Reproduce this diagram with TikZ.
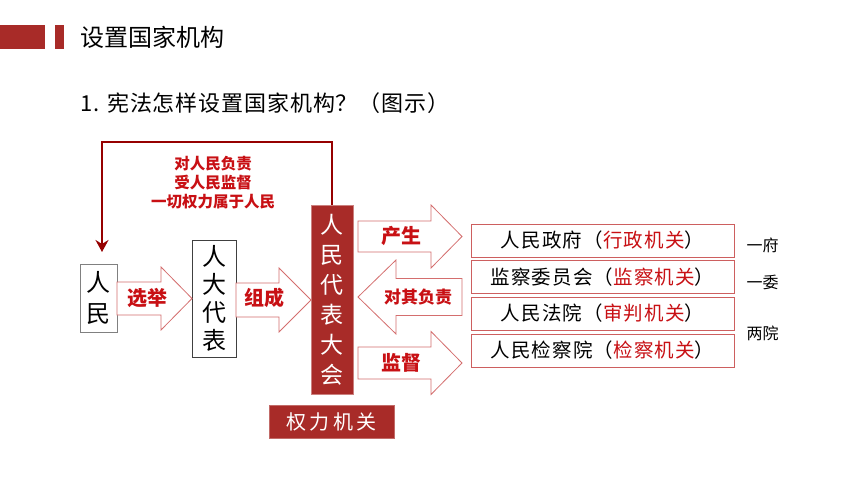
\documentclass[tikz,border=0pt]{standalone}
\usepackage{fontspec}
\setmainfont{Noto Sans CJK SC}
\usetikzlibrary{arrows.meta}
\definecolor{boxred}{RGB}{168,43,40}
\definecolor{txtred}{RGB}{200,16,20}
\definecolor{linered}{RGB}{150,0,0}
\definecolor{arrowedge}{RGB}{212,110,110}
\definecolor{rboxedge}{RGB}{205,95,95}
\newcommand{\myblockarrow}[6]{%
  \draw[blockarrow] ({#1},{#4-#5}) -- ({#2},{#4-#5}) -- ({#2},{#4-#6}) -- ({#3},{#4})
    -- ({#2},{#4+#6}) -- ({#2},{#4+#5}) -- ({#1},{#4+#5}) -- cycle;}
\tikzset{
  blockarrow/.style={draw=arrowedge, fill=white, line width=0.8pt, line join=miter},
  vbox/.style={draw, inner sep=0pt, align=center},
  redlbl/.style={text=txtred, font=\bfseries\fontsize{20}{20}\selectfont},
  rbox/.style={draw=rboxedge, line width=1pt, fill=white, minimum width=263pt, minimum height=33pt, inner sep=0pt, font=\fontsize{19.5}{19.5}\selectfont\addfontfeature{LetterSpace=6}},
  side/.style={font=\fontsize{16}{16}\selectfont, anchor=west},
}
\begin{document}
\begin{tikzpicture}[x=1pt,y=-1pt]
\useasboundingbox[fill=white] (0,0) rectangle (860,484);
% title bar
\fill[boxred] (0,25) rectangle (45,49);
\fill[boxred] (55,25) rectangle (64,49);
\node[anchor=west, inner sep=0pt, font=\fontsize{24}{24}\selectfont] (title) at (80,37) {设置国家机构};
\node[anchor=west, inner sep=0pt, font=\fontsize{22}{22}\selectfont\addfontfeature{LetterSpace=4}] (sub) at (80,103) {1. 宪法怎样设置国家机构？（图示）};
% boxes
\node[vbox, draw=gray, minimum width=37pt, minimum height=68pt, font=\fontsize{24}{31}\selectfont] (renmin) at (98.5,298) {人\\民};
\node[vbox, draw=black!75, minimum width=44pt, minimum height=117pt, font=\fontsize{24}{28}\selectfont] (rddb) at (214,298.5) {人\\大\\代\\表};
\node[vbox, draw=boxred!60, fill=boxred, text=white, minimum width=42pt, minimum height=189pt, font=\fontsize{23}{30}\selectfont] (rdh) at (332,299.5) {人\\民\\代\\表\\大\\会};
\node[fill=boxred, draw=boxred!70, text=white, minimum width=125pt, minimum height=33pt, inner sep=0pt, font=\fontsize{20}{20}\selectfont] (qljg) at (331.5,421.5) {权\,力\,机\,关};
% feedback line
\coordinate (fbtop) at (332,142);
\coordinate (fbleft) at (102,142);
\draw[linered, line width=2.6pt, -{Stealth[length=12pt,width=13pt,inset=4pt]}] (rdh.north) -- (fbtop) -- (fbleft) -- (102,252) coordinate (fbend);
\node[text=txtred, font=\bfseries\fontsize{15.5}{19}\selectfont, align=center] (fbtext) at (213,183) {对人民负责\\受人民监督\\一切权力属于人民};
% block arrows
\myblockarrow{117}{161}{192}{298.5}{16.5}{31.5}
\node[redlbl] (xj) at (147,298) {选举};
\myblockarrow{236}{279}{311}{300}{17}{32}
\node[redlbl] (zc) at (264,298) {组成};
\myblockarrow{358}{431}{462}{236.5}{15.5}{31.5}
\node[redlbl] (cs) at (401,236) {产生};
\myblockarrow{462}{396}{358}{297}{18.5}{37}
\node[redlbl, font=\bfseries\fontsize{17}{17}\selectfont] (dqfz) at (418,297) {对其负责};
\myblockarrow{358}{431}{462}{363}{16}{31.5}
\node[redlbl] (jd) at (401,363) {监督};
% right boxes
\node[rbox] (zf) at (602.5,240.5) {人民政府（\textcolor{txtred}{行政机关}）};
\node[rbox] (jw) at (602.5,277) {监察委员会（\textcolor{txtred}{监察机关}）};
\node[rbox] (fy) at (602.5,313.5) {人民法院（\textcolor{txtred}{审判机关}）};
\node[rbox] (jcy) at (602.5,350.5) {人民检察院（\textcolor{txtred}{检察机关}）};
% side labels
\node[side] (yf) at (743,245) {一府};
\node[side] (yw) at (743,282) {一委};
\node[side] (ly) at (743,333) {两院};
\end{tikzpicture}
\end{document}
